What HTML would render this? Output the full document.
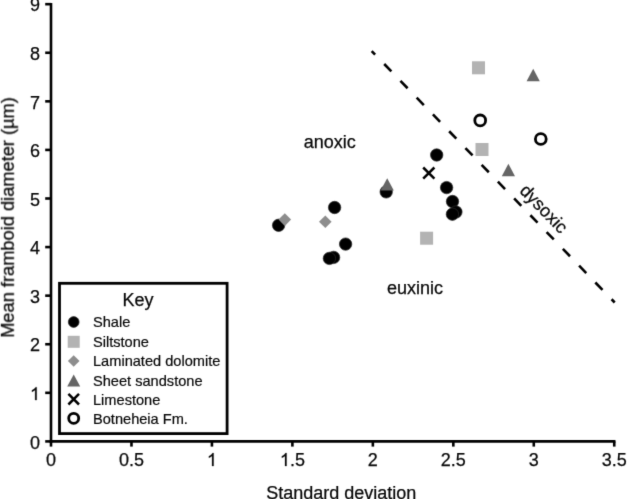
<!DOCTYPE html>
<html><head><meta charset="utf-8"><style>
html,body{margin:0;padding:0;background:#fff;}
body{width:627px;height:499px;position:relative;overflow:hidden;font-family:"Liberation Sans",sans-serif;}
</style></head><body>
<svg width="627" height="499" viewBox="0 0 627 499" style="position:absolute;left:0;top:0;filter:grayscale(1)">
<defs><filter id="bl" x="0" y="0" width="627" height="499" filterUnits="userSpaceOnUse" primitiveUnits="userSpaceOnUse" color-interpolation-filters="sRGB"><feConvolveMatrix order="3" kernelMatrix="0.01134 0.08382 0.01134 0.08382 0.61935 0.08382 0.01134 0.08382 0.01134" edgeMode="duplicate" preserveAlpha="false"/></filter></defs>
<g filter="url(#bl)"><rect x="0" y="0" width="627" height="499" fill="#fff"/><g font-family="Liberation Sans, sans-serif" fill="#080808" stroke="#080808" stroke-width="0.25">
<line x1="51.0" y1="3.1" x2="51.0" y2="442.7" stroke="#000" stroke-width="2.6"/>
<line x1="49.7" y1="441.4" x2="615.455" y2="441.4" stroke="#000" stroke-width="2.6"/>
<line x1="45.2" y1="441.40" x2="51.0" y2="441.40" stroke="#000" stroke-width="2.6"/>
<text x="40" y="448.65" font-size="18" text-anchor="end">0</text>
<line x1="45.2" y1="392.82" x2="51.0" y2="392.82" stroke="#000" stroke-width="2.6"/>
<path transform="translate(29.99,400.07) scale(0.008789,-0.008789)" stroke-width="28.4" d="M763,0L583,0L583,1147Q518,1085 412,1023Q306,961 222,930L222,1104Q373,1175 486,1276Q599,1377 646,1472L763,1472Z"/>
<line x1="45.2" y1="344.24" x2="51.0" y2="344.24" stroke="#000" stroke-width="2.6"/>
<text x="40" y="351.49" font-size="18" text-anchor="end">2</text>
<line x1="45.2" y1="295.66" x2="51.0" y2="295.66" stroke="#000" stroke-width="2.6"/>
<text x="40" y="302.91" font-size="18" text-anchor="end">3</text>
<line x1="45.2" y1="247.08" x2="51.0" y2="247.08" stroke="#000" stroke-width="2.6"/>
<text x="40" y="254.33" font-size="18" text-anchor="end">4</text>
<line x1="45.2" y1="198.50" x2="51.0" y2="198.50" stroke="#000" stroke-width="2.6"/>
<text x="40" y="205.75" font-size="18" text-anchor="end">5</text>
<line x1="45.2" y1="149.92" x2="51.0" y2="149.92" stroke="#000" stroke-width="2.6"/>
<text x="40" y="157.17" font-size="18" text-anchor="end">6</text>
<line x1="45.2" y1="101.34" x2="51.0" y2="101.34" stroke="#000" stroke-width="2.6"/>
<text x="40" y="108.59" font-size="18" text-anchor="end">7</text>
<line x1="45.2" y1="52.76" x2="51.0" y2="52.76" stroke="#000" stroke-width="2.6"/>
<text x="40" y="60.01" font-size="18" text-anchor="end">8</text>
<line x1="45.2" y1="4.18" x2="51.0" y2="4.18" stroke="#000" stroke-width="2.6"/>
<text x="40" y="11.43" font-size="18" text-anchor="end">9</text>
<line x1="51.00" y1="441.4" x2="51.00" y2="446.6" stroke="#000" stroke-width="2.6"/>
<text x="51.00" y="466" font-size="18" text-anchor="middle">0</text>
<line x1="131.47" y1="441.4" x2="131.47" y2="446.6" stroke="#000" stroke-width="2.6"/>
<text x="131.47" y="466" font-size="18" text-anchor="middle">0.5</text>
<line x1="211.93" y1="441.4" x2="211.93" y2="446.6" stroke="#000" stroke-width="2.6"/>
<path transform="translate(206.92,466.00) scale(0.008789,-0.008789)" stroke-width="28.4" d="M763,0L583,0L583,1147Q518,1085 412,1023Q306,961 222,930L222,1104Q373,1175 486,1276Q599,1377 646,1472L763,1472Z"/>
<line x1="292.39" y1="441.4" x2="292.39" y2="446.6" stroke="#000" stroke-width="2.6"/>
<path transform="translate(279.88,466.00) scale(0.008789,-0.008789)" stroke-width="28.4" d="M763,0L583,0L583,1147Q518,1085 412,1023Q306,961 222,930L222,1104Q373,1175 486,1276Q599,1377 646,1472L763,1472Z"/>
<text x="289.89" y="466" font-size="18">.5</text>
<line x1="372.86" y1="441.4" x2="372.86" y2="446.6" stroke="#000" stroke-width="2.6"/>
<text x="372.86" y="466" font-size="18" text-anchor="middle">2</text>
<line x1="453.33" y1="441.4" x2="453.33" y2="446.6" stroke="#000" stroke-width="2.6"/>
<text x="453.33" y="466" font-size="18" text-anchor="middle">2.5</text>
<line x1="533.79" y1="441.4" x2="533.79" y2="446.6" stroke="#000" stroke-width="2.6"/>
<text x="533.79" y="466" font-size="18" text-anchor="middle">3</text>
<line x1="614.25" y1="441.4" x2="614.25" y2="446.6" stroke="#000" stroke-width="2.6"/>
<text x="614.25" y="466" font-size="18" text-anchor="middle">3.5</text>
<text x="341.2" y="498.5" font-size="18" text-anchor="middle">Standard deviation</text>
<text transform="translate(13.8,217.5) rotate(-90)" x="0" y="0" font-size="18.25" text-anchor="middle">Mean framboid diameter (µm)</text>
<text x="329.8" y="147.5" font-size="18" text-anchor="middle">anoxic</text>
<text x="414.9" y="294.4" font-size="18" text-anchor="middle">euxinic</text>
<line x1="371.7" y1="51.1" x2="614.7" y2="302.5" stroke="#000" stroke-width="2.6" stroke-dasharray="10.3 13.07" stroke-dashoffset="5.39"/>
<text transform="translate(539.5,213) rotate(45.97)" font-size="18" text-anchor="middle">dysoxic</text>
<circle cx="278.6" cy="225.3" r="6.20" fill="#000" stroke="#2a2a2a" stroke-width="0.7"/>
<polygon points="284.8,213.29999999999998 291.1,219.6 284.8,225.9 278.5,219.6" fill="#8d8d8d" stroke="none"/>
<polygon points="325.3,215.39999999999998 331.6,221.7 325.3,228.0 319.0,221.7" fill="#8d8d8d" stroke="none"/>
<circle cx="334.6" cy="207.5" r="6.20" fill="#000" stroke="#2a2a2a" stroke-width="0.7"/>
<circle cx="345.6" cy="244.1" r="6.20" fill="#000" stroke="#2a2a2a" stroke-width="0.7"/>
<circle cx="333.6" cy="257.4" r="6.20" fill="#000" stroke="#2a2a2a" stroke-width="0.7"/>
<circle cx="329.4" cy="258.4" r="6.20" fill="#000" stroke="#2a2a2a" stroke-width="0.7"/>
<circle cx="386.2" cy="191.9" r="6.20" fill="#000" stroke="#2a2a2a" stroke-width="0.7"/>
<polygon points="387.2,178.20000000000002 393.8,190.6 380.59999999999997,190.6" fill="#656565" stroke="none"/>
<path d="M423.2,167.5L434.40000000000003,178.7M434.40000000000003,167.5L423.2,178.7" stroke="#000" stroke-width="2.5" fill="none"/>
<circle cx="436.7" cy="155" r="6.20" fill="#000" stroke="#2a2a2a" stroke-width="0.7"/>
<circle cx="446.6" cy="187.6" r="6.20" fill="#000" stroke="#2a2a2a" stroke-width="0.7"/>
<circle cx="452.5" cy="201.5" r="6.20" fill="#000" stroke="#2a2a2a" stroke-width="0.7"/>
<circle cx="455.9" cy="212" r="6.20" fill="#000" stroke="#2a2a2a" stroke-width="0.7"/>
<circle cx="452.4" cy="214.2" r="6.20" fill="#000" stroke="#2a2a2a" stroke-width="0.7"/>
<rect x="420.1" y="231.7" width="13" height="13" fill="#b3b3b3" stroke="none"/>
<rect x="472.0" y="61.3" width="13" height="13" fill="#b3b3b3" stroke="none"/>
<rect x="475.5" y="143.0" width="13" height="13" fill="#b3b3b3" stroke="none"/>
<polygon points="533.2,68.8 539.8000000000001,81.2 526.6,81.2" fill="#656565" stroke="none"/>
<polygon points="508.4,163.8 515.0,176.2 501.79999999999995,176.2" fill="#656565" stroke="none"/>
<circle cx="480.2" cy="120.4" r="5.4" fill="none" stroke="#000" stroke-width="2.8"/>
<circle cx="540.8" cy="139" r="5.4" fill="none" stroke="#000" stroke-width="2.8"/>
<rect x="59.5" y="283.3" width="167.6" height="150.3" fill="#fff" stroke="#000" stroke-width="2.8"/>
<text x="137.9" y="306.2" font-size="18" text-anchor="middle">Key</text>
<circle cx="73.7" cy="322" r="5.40" fill="#000" stroke="#2a2a2a" stroke-width="0.7"/>
<rect x="67.7" y="335.8" width="12" height="12" fill="#b3b3b3" stroke="none"/>
<polygon points="73.7,355.2 79.5,361 73.7,366.8 67.9,361" fill="#8d8d8d" stroke="none"/>
<polygon points="73.7,374.5 80.2,386.5 67.2,386.5" fill="#656565" stroke="none"/>
<path d="M68.4,393.9L79.0,404.5M79.0,393.9L68.4,404.5" stroke="#000" stroke-width="2.5" fill="none"/>
<circle cx="73.7" cy="418.3" r="5.0" fill="none" stroke="#000" stroke-width="2.8"/>
<text x="93" y="327.30" font-size="14.6" stroke-width="0.2">Shale</text>
<text x="93" y="347.10" font-size="14.6" stroke-width="0.2">Siltstone</text>
<text x="93" y="366.30" font-size="14.6" stroke-width="0.2">Laminated dolomite</text>
<text x="93" y="385.80" font-size="14.6" stroke-width="0.2">Sheet sandstone</text>
<text x="93" y="404.50" font-size="14.6" stroke-width="0.2">Limestone</text>
<text x="93" y="423.60" font-size="14.6" stroke-width="0.2">Botneheia Fm.</text>
</g></g></svg>
</body></html>
